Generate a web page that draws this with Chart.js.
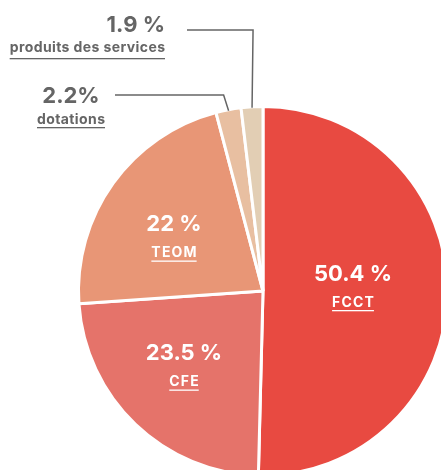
<!DOCTYPE html>
<html><head><meta charset="utf-8">
<script src="https://cdn.jsdelivr.net/npm/chart.js@4.4.1/dist/chart.umd.min.js"></script>
<style>
html,body{margin:0;padding:0;overflow:hidden;background:#fff;width:441px;height:470px}
#wrap{position:absolute;left:0;top:0;width:460px;height:480px}
</style>
</head><body><div id="wrap"><canvas id="c" width="460" height="480"></canvas></div>
<script>
// ---- data ----
const categories = ['FCCT', 'CFE', 'TEOM', 'dotations', 'produits des services'];
const shares = [50.4, 23.5, 22, 2.2, 1.9];
const valueLabels = ['50.4 %', '23.5 %', '22 %', '2.2%', '1.9 %'];

// ---- styles / layout ----
const colors = ['#E84A41', '#E5736A', '#E89676', '#E8BFA1', '#E2CEB4'];
const FONT = 'Inter, "Noto Sans", sans-serif';
const GRAY = '#656565';
// label anchor offsets relative to the pie centre (layout only)
const insideOffset = [[90, -3.5], [-79, 76], [-89, -53]];
const outsideLayout = {
  3: {elbowDx: -5, elbowY: 95, endX: 115, textX: 71, align: 'center', valueY: 103, nameY: 124, ulGap: 3},
  4: {elbowDx: 1, elbowY: 30, endX: 187, textX: 165, align: 'right', valueY: 32, nameY: 52, ulGap: 6}
};

const labelPlugin = {
  id: 'sliceLabels',
  afterDatasetsDraw(chart) {
    const ctx = chart.ctx;
    const meta = chart.getDatasetMeta(0);
    ctx.save();
    meta.data.forEach((arc, i) => {
      const p = arc.getProps(['x', 'y', 'startAngle', 'endAngle', 'outerRadius'], true);
      const mid = (p.startAngle + p.endAngle) / 2;
      ctx.textBaseline = 'alphabetic';
      if (i < 3) {
        const ax = p.x + insideOffset[i][0], ay = p.y + insideOffset[i][1];
        ctx.fillStyle = '#fff';
        ctx.textAlign = 'center';
        ctx.letterSpacing = '0px';
        ctx.font = '700 22px ' + FONT;
        ctx.fillText(valueLabels[i], ax, ay - 7);
        ctx.font = '700 14px ' + FONT;
        ctx.letterSpacing = '1.2px';
        const w = ctx.measureText(categories[i]).width;
        ctx.textAlign = 'left';
        ctx.fillText(categories[i], ax - (w - 1.2) / 2, ay + 19);
        ctx.fillRect(ax - (w - 1.2) / 2, ay + 22.5, w - 1.2, 1.3);
      } else {
        const L = outsideLayout[i];
        const sx = p.x + Math.cos(mid) * (p.outerRadius - 1);
        const sy = p.y + Math.sin(mid) * (p.outerRadius - 1);
        ctx.strokeStyle = GRAY;
        ctx.lineWidth = 1.5;
        ctx.beginPath();
        ctx.moveTo(sx, sy);
        ctx.lineTo(sx + L.elbowDx, L.elbowY);
        ctx.lineTo(L.endX, L.elbowY);
        ctx.stroke();
        ctx.fillStyle = GRAY;
        ctx.textAlign = L.align;
        ctx.letterSpacing = '0px';
        ctx.font = '700 22px ' + FONT;
        ctx.fillText(valueLabels[i], L.textX, L.valueY);
        ctx.font = '700 14px ' + FONT;
        ctx.letterSpacing = '0.4px';
        const w = ctx.measureText(categories[i]).width - 0.4;
        const left = L.align === 'right' ? L.textX - w : L.textX - w / 2;
        ctx.textAlign = 'left';
        ctx.fillText(categories[i], left, L.nameY);
        ctx.fillRect(left, L.nameY + L.ulGap, w, 1.3);
      }
    });
    ctx.restore();
  }
};

new Chart(document.getElementById('c'), {
  type: 'pie',
  data: {
    labels: categories,
    datasets: [{
      data: shares,
      backgroundColor: colors,
      borderColor: '#ffffff',
      borderWidth: 3,
      hoverOffset: 0,
      radius: 184.5
    }]
  },
  options: {
    responsive: false,
    animation: false,
    events: [],
    layout: {padding: {left: 73, right: 7, top: 106, bottom: 4}},
    plugins: {legend: {display: false}, tooltip: {enabled: false}}
  },
  plugins: [labelPlugin]
});
</script>
</body></html>
